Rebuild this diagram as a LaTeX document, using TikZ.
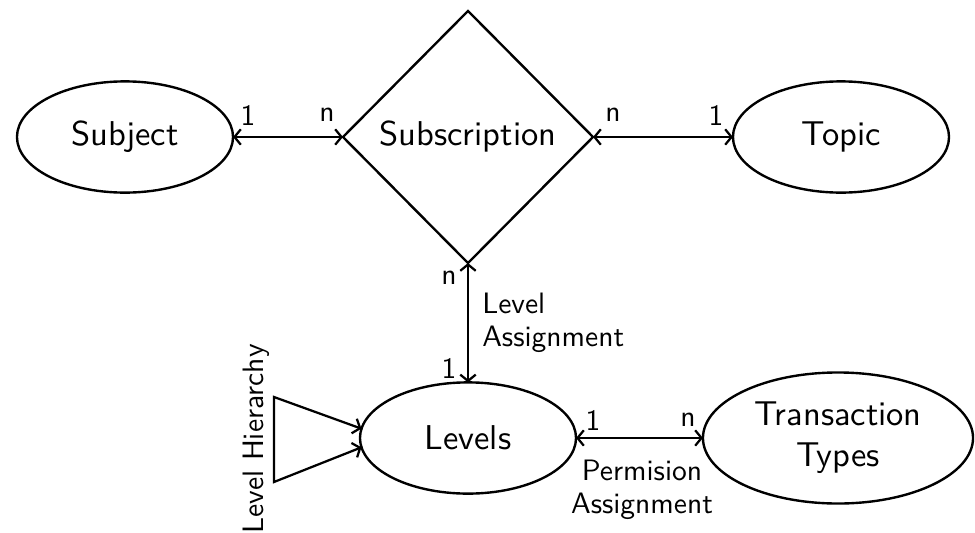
\documentclass[tikz,border=0pt]{standalone}
\usepackage{fontspec}
\usetikzlibrary{shapes.geometric,arrows.meta}

% the 10pt design of Latin Modern Sans, used at every size
\newfontfamily\lmsten{lmsans10-regular.otf}

\tikzset{
  entity/.style={draw, ellipse, line width=1.7pt, inner sep=0pt, outer sep=0pt,
    minimum width=5.4cm, minimum height=2.78cm,
    font=\lmsten\fontsize{24.5}{29}\selectfont, align=center},
  relation/.style={draw, diamond, line width=1.7pt, inner sep=0pt, outer sep=0pt,
    minimum width=6.25cm, minimum height=6.3cm,
    font=\lmsten\fontsize{24.5}{29}\selectfont},
  card/.style={font=\lmsten\fontsize{21}{23.5}\selectfont, inner sep=0pt},
  note/.style={font=\lmsten\fontsize{21}{23.5}\selectfont, inner sep=0pt},
  link/.style={line width=1.6pt, {Straight Barb[length=4.5pt,width=11pt]}-{Straight Barb[length=4.5pt,width=11pt]}},
}

\begin{document}
\begin{tikzpicture}[x=0.025cm, y=-0.025cm]
  \useasboundingbox (0,0) rectangle (975,533);

  % entities and the relationship
  \node[entity] (subj) at (125,137) {Subject};
  \node[relation] (sub) at (468,137) {Subscription};
  \node[entity] (topic) at (841,137) {Topic};
  \node[entity] (lev) at (468,438) {Levels};
  \node[entity, minimum width=6.75cm, minimum height=3.275cm] (trans) at (838,438) {Transaction\\Types};

  % connectors
  \draw[link] (subj.east) -- (sub.west);
  \draw[link] (sub.east) -- (topic.west);
  \draw[link] (sub.south) -- (lev.north);
  \draw[link] (lev.east) -- (trans.west);

  % level hierarchy: triangle whose two sides point at Levels
  \coordinate (htop) at (274,397);
  \coordinate (hbot) at (274,482);
  \draw[link] (lev.175) -- (htop) -- (hbot) -- (lev.185);

  % cardinalities
  \node[card] (c1) at (248,115) {1};
  \node[card] (c2) at (327,115) {n};
  \node[card] (c3) at (613,115) {n};
  \node[card] (c4) at (716,115) {1};
  \node[card] (c5) at (449,278) {n};
  \node[card] (c6) at (449,368) {1};
  \node[card] (c7) at (593,420) {1};
  \node[card] (c8) at (688,420) {n};

  % relation names
  \node[note, anchor=west, align=left] (la) at (482,323) {Level\\Assignment};
  \node[note, align=center] (pa) at (642,490) {Permision\\Assignment};
  \node[note, rotate=90] (lh) at (256,439) {Level Hierarchy};
\end{tikzpicture}
\end{document}
